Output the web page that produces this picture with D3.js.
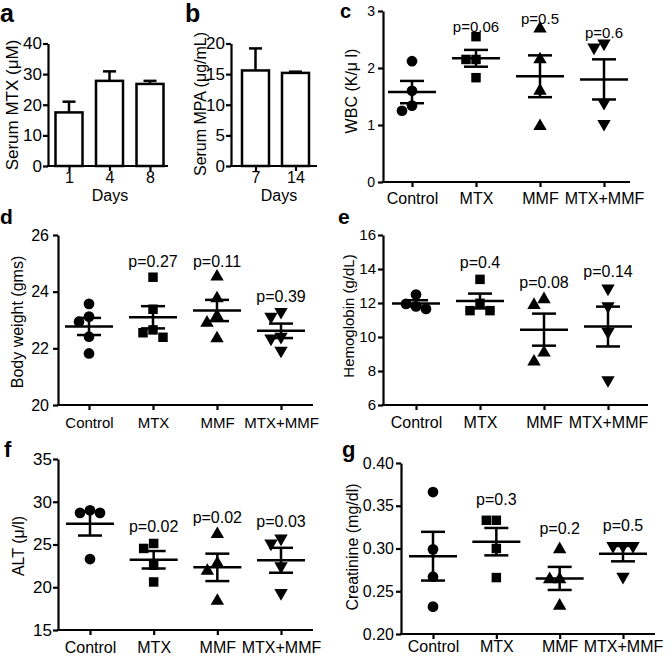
<!DOCTYPE html>
<html><head><meta charset="utf-8">
<script src="https://cdn.jsdelivr.net/npm/d3@7"></script>
<style>
body{margin:0;background:#fff;}
svg{display:block;}
</style>
</head><body>
<svg id="fig" width="670" height="657"></svg>
<script>
// ---------------- DATA ----------------
const mtxDays = ["1", "4", "8"];
const mtxSerum = [17.5, 27.8, 26.8];
const mtxSerumSem = [3.5, 3.1, 1.0];
const mtxTicks = [0, 10, 20, 30, 40];

const mpaDays = ["7", "14"];
const mpaSerum = [15.6, 15.2];
const mpaSerumSem = [3.6, 0.2];
const mpaTicks = [0, 5, 10, 15, 20];

const groups = ["Control", "MTX", "MMF", "MTX+MMF"];

const wbc = [
  [2.12, 1.60, 1.34, 1.25],
  [2.55, 2.15, 2.15, 1.83],
  [2.69, 2.15, 1.60, 0.98],
  [2.43, 2.36, 1.39, 1.02]
];
const wbcP = [null, "p=0.06", "p=0.5", "p=0.6"];
const wbcTicks = [0, 1, 2, 3];

const bodyWeight = [
  [23.57, 23.12, 22.94, 22.41, 21.82],
  [24.51, 23.38, 22.65, 22.55, 22.39],
  [24.53, 23.76, 23.14, 22.90, 22.35],
  [23.29, 23.12, 22.41, 22.35, 21.92]
];
const bodyWeightP = [null, "p=0.27", "p=0.11", "p=0.39"];
const bodyWeightTicks = [20, 22, 24, 26];

const hemoglobin = [
  [12.50, 11.95, 11.80, 11.65],
  [13.39, 11.98, 11.55, 11.55],
  [12.22, 11.88, 9.08, 8.55],
  [12.86, 11.82, 10.31, 7.47]
];
const hemoglobinP = [null, "p=0.4", "p=0.08", "p=0.14"];
const hemoglobinTicks = [6, 8, 10, 12, 14, 16];

const alt = [
  [29.00, 28.70, 28.70, 23.30],
  [25.12, 24.54, 22.58, 20.62],
  [26.21, 22.78, 21.91, 18.40],
  [25.71, 25.12, 22.46, 19.33]
];
const altP = [null, "p=0.02", "p=0.02", "p=0.03"];
const altTicks = [15, 20, 25, 30, 35];

const creatinine = [
  [0.366, 0.299, 0.267, 0.232],
  [0.333, 0.333, 0.300, 0.266],
  [0.299, 0.264, 0.264, 0.233],
  [0.303, 0.303, 0.303, 0.267]
];
const creatinineP = [null, "p=0.3", "p=0.2", "p=0.5"];
const creatinineTicks = [0.20, 0.25, 0.30, 0.35, 0.40];

// ---------------- DRAWING ----------------
const FONT = '"Liberation Sans", Arial, Helvetica, sans-serif';
const svg = d3.select("#fig").attr("font-family", FONT);
svg.append("rect").attr("width", 670).attr("height", 657).attr("fill", "#fff");

const symbolTypes = [d3.symbolCircle, d3.symbolSquare, d3.symbolTriangle, d3.symbolTriangle];
const symbolSizes = [90, 90, 78, 78];
const symbolRot = [0, 0, 0, 180];

function styleAxis(g, font) {
  g.attr("font-family", FONT).attr("font-size", font);
  g.select(".domain").attr("stroke", "#000").attr("stroke-width", 2.2);
  g.selectAll(".tick line").attr("stroke", "#000").attr("stroke-width", 2.2);
  g.selectAll(".tick text").attr("fill", "#000");
}

function letter(txt, x, y, size) {
  svg.append("text").attr("x", x).attr("y", y).attr("font-weight", "bold")
    .attr("font-size", size).attr("fill", "#000").text(txt);
}
function yLabel(txt, x, y, size) {
  svg.append("text").attr("transform", `translate(${x},${y}) rotate(-90)`)
    .attr("text-anchor", "middle").attr("dominant-baseline", "central")
    .attr("font-size", size).attr("fill", "#000").text(txt);
}

function yAxis(cfg, y) {
  const ax = d3.axisLeft(y).tickValues(cfg.ticks).tickSize(5).tickSizeOuter(0)
    .tickPadding(cfg.tickPad).tickFormat(cfg.fmt || d3.format("d"));
  const g = svg.append("g").attr("transform", `translate(${cfg.x0},0)`).call(ax);
  styleAxis(g, cfg.tickFont);
}
function xAxis(cfg, x) {
  svg.append("line").attr("x1", cfg.x0 - 1.1).attr("x2", cfg.xEnd)
    .attr("y1", cfg.yBottom).attr("y2", cfg.yBottom)
    .attr("stroke", "#000").attr("stroke-width", 2.2);
  const pad = cfg.catBaseline - cfg.yBottom - 5 - 0.71 * cfg.catFont;
  const ax = d3.axisBottom(x).tickSize(5).tickSizeOuter(0).tickPadding(pad);
  const g = svg.append("g").attr("transform", `translate(0,${cfg.yBottom})`).call(ax);
  g.select(".domain").remove();
  styleAxis(g, cfg.catFont);
}

function barPanel(cfg) {
  const y = d3.scaleLinear().domain(cfg.domain).range([cfg.yBottom, cfg.yTop]);
  const x = d3.scalePoint().domain(cfg.cats).range(cfg.xRange);
  const bw = 27;
  const gb = svg.append("g");
  cfg.values.forEach((v, i) => {
    const cx = x(cfg.cats[i]);
    const top = y(v + cfg.sem[i]);
    gb.append("line").attr("x1", cx).attr("x2", cx).attr("y1", y(v)).attr("y2", top)
      .attr("stroke", "#000").attr("stroke-width", 2.5);
    gb.append("line").attr("x1", cx - 6.5).attr("x2", cx + 6.5).attr("y1", top).attr("y2", top)
      .attr("stroke", "#000").attr("stroke-width", 2.5);
  });
  gb.selectAll("rect.bar").data(cfg.values).join("rect").attr("class", "bar")
    .attr("x", (d, i) => x(cfg.cats[i]) - bw / 2)
    .attr("y", d => y(d))
    .attr("width", bw)
    .attr("height", d => cfg.yBottom - y(d))
    .attr("fill", "#fff").attr("stroke", "#000").attr("stroke-width", 2.5);
  yAxis(cfg, y);
  xAxis(cfg, x);
  svg.append("text").attr("x", cfg.daysX).attr("y", cfg.daysY).attr("text-anchor", "middle")
    .attr("font-size", 16).attr("fill", "#000").text("Days");
  yLabel(cfg.ylabel, cfg.ylx, cfg.yly, cfg.ylFont);
  letter(cfg.letter, cfg.lx, cfg.ly, cfg.lFont);
}

function swarm(ys, minD) {
  const order = d3.range(ys.length).sort((a, b) => ys[a] - ys[b]);
  const placed = [];
  const dx = new Array(ys.length).fill(0);
  const cands = [0, -minD, minD, -2 * minD, 2 * minD];
  order.forEach(i => {
    for (const c of cands) {
      if (placed.every(p => Math.hypot(p.x - c, p.y - ys[i]) >= minD - 0.01)) {
        dx[i] = c; placed.push({x: c, y: ys[i]}); break;
      }
    }
  });
  return dx;
}

function scatterPanel(cfg) {
  const y = d3.scaleLinear().domain(cfg.domain).range([cfg.yBottom, cfg.yTop]);
  const x = d3.scalePoint().domain(groups).range(cfg.xRange);
  yAxis(cfg, y);
  xAxis(cfg, x);
  const g = svg.append("g");
  cfg.data.forEach((vals, gi) => {
    const cx = x(groups[gi]);
    const ys = vals.map(v => y(v));
    const dx = swarm(ys, 10);
    const sym = d3.symbol().type(symbolTypes[gi]).size(symbolSizes[gi]);
    g.selectAll(null).data(vals).join("path")
      .attr("d", sym)
      .attr("transform", (d, i) => `translate(${cx + dx[i]},${ys[i]}) rotate(${symbolRot[gi]})`)
      .attr("fill", "#000");
    const m = d3.mean(vals);
    const se = d3.deviation(vals) / Math.sqrt(vals.length);
    const ln = (x1, x2, y1, y2) => g.append("line").attr("x1", x1).attr("x2", x2)
      .attr("y1", y1).attr("y2", y2).attr("stroke", "#000").attr("stroke-width", 2.5);
    ln(cx - 24, cx + 24, y(m), y(m));
    ln(cx, cx, y(m + se), y(m - se));
    ln(cx - 12, cx + 12, y(m + se), y(m + se));
    ln(cx - 12, cx + 12, y(m - se), y(m - se));
    const p = cfg.p[gi];
    if (p) {
      svg.append("text").attr("x", cx).attr("y", y(d3.max(vals)) - cfg.pOff)
        .attr("text-anchor", "middle").attr("font-size", cfg.pFont).attr("fill", "#000").text(p);
    }
  });
  yLabel(cfg.ylabel, cfg.ylx, cfg.yly, cfg.ylFont);
  letter(cfg.letter, cfg.lx, cfg.ly, cfg.lFont);
}

// Panel a
barPanel({
  letter: "a", lx: 0, ly: 22, lFont: 25,
  ylabel: "Serum MTX (\u03bcM)", ylx: 12, yly: 105, ylFont: 17,
  cats: mtxDays, values: mtxSerum, sem: mtxSerumSem,
  domain: [0, 40], yTop: 43.5, yBottom: 166, x0: 48, xEnd: 168, xRange: [69, 150],
  ticks: mtxTicks, tickFont: 17, tickPad: 1,
  catFont: 16, catBaseline: 183, daysX: 110, daysY: 201
});
// Panel b
barPanel({
  letter: "b", lx: 185, ly: 22, lFont: 25,
  ylabel: "Serum MPA (\u03bcg/mL)", ylx: 200, yly: 104, ylFont: 16,
  cats: mpaDays, values: mpaSerum, sem: mpaSerumSem,
  domain: [0, 20], yTop: 43.5, yBottom: 166, x0: 231, xEnd: 317, xRange: [255.5, 295.5],
  ticks: mpaTicks, tickFont: 17, tickPad: 1,
  catFont: 16, catBaseline: 183, daysX: 279, daysY: 201
});
// Panel c
scatterPanel({
  letter: "c", lx: 340, ly: 18, lFont: 20,
  ylabel: "WBC (K/\u03bc l)", ylx: 351, yly: 91, ylFont: 16,
  data: wbc, p: wbcP, pOff: 5, pFont: 15,
  domain: [0, 3], yTop: 11, yBottom: 182, x0: 383, xEnd: 630, xRange: [412, 604],
  ticks: wbcTicks, tickFont: 14, tickPad: 3,
  catFont: 16, catBaseline: 204
});
// Panel d
scatterPanel({
  letter: "d", lx: 0, ly: 224, lFont: 21,
  ylabel: "Body weight (gms)", ylx: 17, yly: 322, ylFont: 16,
  data: bodyWeight, p: bodyWeightP, pOff: 10, pFont: 16,
  domain: [20, 26], yTop: 235, yBottom: 405, x0: 58, xEnd: 313, xRange: [89, 281],
  ticks: bodyWeightTicks, tickFont: 16, tickPad: 4,
  catFont: 15, catBaseline: 428
});
// Panel e
scatterPanel({
  letter: "e", lx: 338, ly: 224, lFont: 21,
  ylabel: "Hemoglobin (g/dL)", ylx: 348, yly: 316, ylFont: 15,
  data: hemoglobin, p: hemoglobinP, pOff: 11, pFont: 16,
  domain: [6, 16], yTop: 235, yBottom: 405, x0: 383, xEnd: 648, xRange: [416, 608],
  ticks: hemoglobinTicks, tickFont: 15, tickPad: 2,
  catFont: 16, catBaseline: 428
});
// Panel f
scatterPanel({
  letter: "f", lx: 4, ly: 457, lFont: 22,
  ylabel: "ALT (\u03bc/l)", ylx: 18, yly: 546, ylFont: 16,
  data: alt, p: altP, pOff: 11, pFont: 16,
  domain: [15, 35], yTop: 459, yBottom: 630, x0: 58, xEnd: 313, xRange: [90, 281],
  ticks: altTicks, tickFont: 17, tickPad: 1,
  catFont: 16, catBaseline: 653
});
// Panel g
scatterPanel({
  letter: "g", lx: 342, ly: 457, lFont: 22,
  ylabel: "Creatinine (mg/dl)", ylx: 352, yly: 547, ylFont: 16,
  data: creatinine, p: creatinineP, pOff: 15, pFont: 16,
  domain: [0.2, 0.4], yTop: 463, yBottom: 634, x0: 401, xEnd: 655, xRange: [433, 623],
  ticks: creatinineTicks, tickFont: 16, tickPad: 2, fmt: d3.format(".2f"),
  catFont: 16, catBaseline: 652
});
</script>
</body></html>
